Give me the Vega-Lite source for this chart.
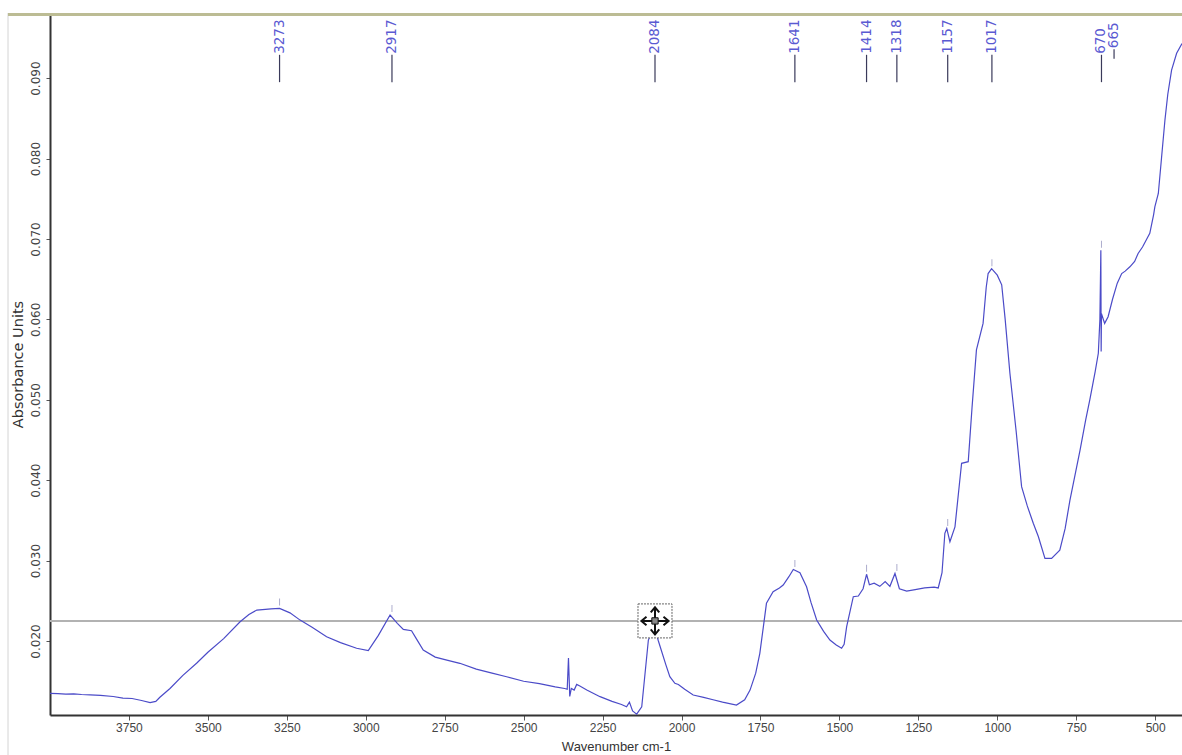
{
  "$schema": "https://vega.github.io/schema/vega-lite/v6.json",
  "width": 1132,
  "height": 702,
  "autosize": "none",
  "padding": {"left": 50, "top": 13, "right": 0, "bottom": 40},
  "background": "white",
  "config": {"view": {"stroke": null}, "font": "Liberation Sans"},
  "datasets": {
    "spectrum": [
      {"wn": 4000, "abs": 0.0135}, {"wn": 3975, "abs": 0.01345}, {"wn": 3950, "abs": 0.0134}, {"wn": 3925, "abs": 0.01342},
      {"wn": 3900, "abs": 0.01335}, {"wn": 3873, "abs": 0.0133}, {"wn": 3840, "abs": 0.01325}, {"wn": 3800, "abs": 0.0131},
      {"wn": 3769, "abs": 0.0129}, {"wn": 3740, "abs": 0.01285}, {"wn": 3710, "abs": 0.0126}, {"wn": 3683, "abs": 0.01235},
      {"wn": 3665, "abs": 0.0125}, {"wn": 3652, "abs": 0.013}, {"wn": 3620, "abs": 0.0141}, {"wn": 3580, "abs": 0.0157},
      {"wn": 3535, "abs": 0.01726}, {"wn": 3500, "abs": 0.0186}, {"wn": 3450, "abs": 0.0203}, {"wn": 3398, "abs": 0.0224},
      {"wn": 3370, "abs": 0.0233}, {"wn": 3345, "abs": 0.02385}, {"wn": 3300, "abs": 0.024}, {"wn": 3273, "abs": 0.02406},
      {"wn": 3240, "abs": 0.0235}, {"wn": 3208, "abs": 0.0226}, {"wn": 3170, "abs": 0.0217}, {"wn": 3124, "abs": 0.02053},
      {"wn": 3080, "abs": 0.0198}, {"wn": 3029, "abs": 0.0191}, {"wn": 2992, "abs": 0.0188}, {"wn": 2960, "abs": 0.0207},
      {"wn": 2923, "abs": 0.02323}, {"wn": 2900, "abs": 0.0222}, {"wn": 2881, "abs": 0.02145}, {"wn": 2855, "abs": 0.02128},
      {"wn": 2840, "abs": 0.0203}, {"wn": 2818, "abs": 0.01888}, {"wn": 2780, "abs": 0.018}, {"wn": 2740, "abs": 0.0176},
      {"wn": 2702, "abs": 0.01723}, {"wn": 2650, "abs": 0.0165}, {"wn": 2600, "abs": 0.016}, {"wn": 2554, "abs": 0.01556},
      {"wn": 2500, "abs": 0.015}, {"wn": 2450, "abs": 0.0147}, {"wn": 2400, "abs": 0.0143}, {"wn": 2370, "abs": 0.0141},
      {"wn": 2362, "abs": 0.014}, {"wn": 2358, "abs": 0.0179}, {"wn": 2354, "abs": 0.0131}, {"wn": 2349, "abs": 0.0141},
      {"wn": 2340, "abs": 0.0139}, {"wn": 2332, "abs": 0.0146}, {"wn": 2322, "abs": 0.0144}, {"wn": 2300, "abs": 0.0139},
      {"wn": 2258, "abs": 0.01308}, {"wn": 2220, "abs": 0.0125}, {"wn": 2190, "abs": 0.0121}, {"wn": 2174, "abs": 0.01183},
      {"wn": 2165, "abs": 0.0124}, {"wn": 2155, "abs": 0.0113}, {"wn": 2142, "abs": 0.0109}, {"wn": 2126, "abs": 0.01183},
      {"wn": 2105, "abs": 0.02012}, {"wn": 2090, "abs": 0.0214}, {"wn": 2084, "abs": 0.0216}, {"wn": 2074, "abs": 0.0201},
      {"wn": 2050, "abs": 0.0171}, {"wn": 2037, "abs": 0.01556}, {"wn": 2021, "abs": 0.01474}, {"wn": 2010, "abs": 0.0146},
      {"wn": 1990, "abs": 0.014}, {"wn": 1963, "abs": 0.01329}, {"wn": 1930, "abs": 0.013}, {"wn": 1900, "abs": 0.0127},
      {"wn": 1870, "abs": 0.0124}, {"wn": 1826, "abs": 0.01204}, {"wn": 1800, "abs": 0.0127}, {"wn": 1783, "abs": 0.0139},
      {"wn": 1765, "abs": 0.016}, {"wn": 1752, "abs": 0.01847}, {"wn": 1740, "abs": 0.022}, {"wn": 1731, "abs": 0.02469},
      {"wn": 1710, "abs": 0.02613}, {"wn": 1690, "abs": 0.0266}, {"wn": 1678, "abs": 0.02696}, {"wn": 1660, "abs": 0.028},
      {"wn": 1646, "abs": 0.0289}, {"wn": 1625, "abs": 0.0285}, {"wn": 1604, "abs": 0.02675}, {"wn": 1590, "abs": 0.0248},
      {"wn": 1572, "abs": 0.02261}, {"wn": 1550, "abs": 0.0212}, {"wn": 1530, "abs": 0.02012}, {"wn": 1510, "abs": 0.0195},
      {"wn": 1493, "abs": 0.0191}, {"wn": 1485, "abs": 0.0196}, {"wn": 1477, "abs": 0.02178}, {"wn": 1456, "abs": 0.02551},
      {"wn": 1440, "abs": 0.0256}, {"wn": 1425, "abs": 0.0265}, {"wn": 1414, "abs": 0.0283}, {"wn": 1405, "abs": 0.027},
      {"wn": 1390, "abs": 0.0272}, {"wn": 1372, "abs": 0.0268}, {"wn": 1355, "abs": 0.0274}, {"wn": 1340, "abs": 0.0268},
      {"wn": 1324, "abs": 0.0284}, {"wn": 1310, "abs": 0.0265}, {"wn": 1287, "abs": 0.0262}, {"wn": 1260, "abs": 0.0264},
      {"wn": 1230, "abs": 0.0266}, {"wn": 1200, "abs": 0.0267}, {"wn": 1187, "abs": 0.0266}, {"wn": 1175, "abs": 0.0285},
      {"wn": 1166, "abs": 0.0334}, {"wn": 1160, "abs": 0.034}, {"wn": 1150, "abs": 0.03235}, {"wn": 1134, "abs": 0.0342},
      {"wn": 1120, "abs": 0.0395}, {"wn": 1113, "abs": 0.0421}, {"wn": 1092, "abs": 0.0423}, {"wn": 1080, "abs": 0.049},
      {"wn": 1066, "abs": 0.0562}, {"wn": 1045, "abs": 0.0595}, {"wn": 1035, "abs": 0.064}, {"wn": 1029, "abs": 0.0657},
      {"wn": 1018, "abs": 0.0663}, {"wn": 1000, "abs": 0.0655}, {"wn": 986, "abs": 0.0643}, {"wn": 975, "abs": 0.06},
      {"wn": 960, "abs": 0.0533}, {"wn": 940, "abs": 0.046}, {"wn": 923, "abs": 0.0392}, {"wn": 905, "abs": 0.0368},
      {"wn": 886, "abs": 0.03464}, {"wn": 870, "abs": 0.033}, {"wn": 849, "abs": 0.03028}, {"wn": 828, "abs": 0.03028},
      {"wn": 802, "abs": 0.03131}, {"wn": 785, "abs": 0.034}, {"wn": 770, "abs": 0.0375}, {"wn": 738, "abs": 0.0437},
      {"wn": 720, "abs": 0.0475}, {"wn": 707, "abs": 0.05}, {"wn": 690, "abs": 0.0535}, {"wn": 680, "abs": 0.05578},
      {"wn": 675, "abs": 0.06}, {"wn": 672, "abs": 0.0686}, {"wn": 671, "abs": 0.056}, {"wn": 670, "abs": 0.0607},
      {"wn": 660, "abs": 0.0595}, {"wn": 649, "abs": 0.06033}, {"wn": 635, "abs": 0.0625}, {"wn": 620, "abs": 0.0645},
      {"wn": 606, "abs": 0.0657}, {"wn": 595, "abs": 0.066}, {"wn": 580, "abs": 0.06654}, {"wn": 565, "abs": 0.0672},
      {"wn": 554, "abs": 0.0682}, {"wn": 540, "abs": 0.069}, {"wn": 517, "abs": 0.0707}, {"wn": 505, "abs": 0.073},
      {"wn": 501, "abs": 0.074}, {"wn": 490, "abs": 0.07566}, {"wn": 480, "abs": 0.08}, {"wn": 469, "abs": 0.0848},
      {"wn": 460, "abs": 0.088}, {"wn": 448, "abs": 0.091}, {"wn": 432, "abs": 0.0931}, {"wn": 415, "abs": 0.0943}
    ],
    "peaks": [
      {"wn": 3273, "label": "3273", "abs": 0.0241},
      {"wn": 2917, "label": "2917", "abs": 0.0233},
      {"wn": 2084, "label": "2084", "abs": 0.0216},
      {"wn": 1641, "label": "1641", "abs": 0.0289},
      {"wn": 1414, "label": "1414", "abs": 0.0283},
      {"wn": 1318, "label": "1318", "abs": 0.0284},
      {"wn": 1157, "label": "1157", "abs": 0.034},
      {"wn": 1017, "label": "1017", "abs": 0.0663},
      {"wn": 670, "label": "670", "abs": 0.0686},
      {"wn": 665, "label": "665", "abs": 0.0686}
    ],
    "cursor": [{"wn": 2084, "abs": 0.0225}]
  },
  "encoding": {
    "x": {
      "field": "wn", "type": "quantitative",
      "scale": {"domain": [415, 4000], "reverse": true, "nice": false, "zero": false},
      "axis": {
        "title": "Wavenumber cm-1",
        "values": [3750, 3500, 3250, 3000, 2750, 2500, 2250, 2000, 1750, 1500, 1250, 1000, 750, 500],
        "format": "d", "grid": false,
        "domainColor": "#333333", "domainWidth": 2,
        "tickColor": "#555555", "tickSize": 5,
        "labelFont": "Liberation Sans", "labelFontSize": 12, "labelColor": "#444444", "labelPadding": 2,
        "titleFont": "Liberation Sans", "titleFontSize": 13, "titleFontWeight": "normal", "titleColor": "#333333", "titlePadding": 7
      }
    },
    "y": {
      "field": "abs", "type": "quantitative",
      "scale": {"domain": [0.0108, 0.0981], "nice": false, "zero": false},
      "axis": {
        "title": "Absorbance Units",
        "values": [0.02, 0.03, 0.04, 0.05, 0.06, 0.07, 0.08, 0.09],
        "format": ".3f", "grid": false,
        "labelAngle": 270, "labelAlign": "center", "labelBaseline": "bottom",
        "domainColor": "#333333", "domainWidth": 2,
        "tickColor": "#555555", "tickSize": 4,
        "labelFont": "DejaVu Sans", "labelFontSize": 12, "labelColor": "#444444", "labelPadding": 4,
        "titleFont": "DejaVu Sans", "titleFontSize": 14.5, "titleFontWeight": "normal", "titleColor": "#333333", "titlePadding": 4
      }
    }
  },
  "layer": [
    {
      "data": {"name": "cursor"},
      "mark": {"type": "rule", "color": "#d4d4d4", "strokeWidth": 1},
      "encoding": {"x": {"datum": 4133}, "y": {"datum": 0.0981}, "y2": {"datum": 0.0058}}
    },
    {
      "data": {"name": "cursor"},
      "mark": {"type": "rule", "color": "#bcbc94", "strokeWidth": 3},
      "encoding": {"x": {"datum": 4133}, "x2": {"datum": 415}, "y": {"datum": 0.0979}}
    },
    {
      "data": {"name": "cursor"},
      "mark": {"type": "rule", "color": "#b2b2b2", "strokeWidth": 2},
      "encoding": {"x": null, "y": {"datum": 0.0225}}
    },
    {
      "data": {"name": "spectrum"},
      "mark": {"type": "line", "color": "#4b4bc8", "strokeWidth": 1.2, "interpolate": "linear"}
    },
    {
      "data": {"name": "peaks"},
      "transform": [{"filter": "datum.wn != 665"}],
      "mark": {"type": "tick", "orient": "vertical", "color": "#8a8ab8", "size": 7, "thickness": 1, "yOffset": -6}
    },
    {
      "data": {"name": "peaks"},
      "transform": [{"filter": "datum.wn != 665"}],
      "mark": {"type": "rule", "color": "#3a3a5a", "strokeWidth": 1.2},
      "encoding": {"y": {"datum": 0.0895}, "y2": {"datum": 0.0929}}
    },
    {
      "data": {"name": "peaks"},
      "transform": [{"filter": "datum.wn != 665"}],
      "mark": {"type": "text", "angle": 270, "align": "left", "baseline": "middle", "font": "DejaVu Sans", "fontSize": 13.5, "color": "#5a5ad2", "dx": 1},
      "encoding": {"y": {"datum": 0.0929}, "text": {"field": "label"}}
    },
    {
      "data": {"name": "peaks"},
      "transform": [{"filter": "datum.wn == 665"}],
      "mark": {"type": "rule", "color": "#3a3a5a", "strokeWidth": 1.2, "xOffset": 11},
      "encoding": {"y": {"datum": 0.0924}, "y2": {"datum": 0.0936}}
    },
    {
      "data": {"name": "peaks"},
      "transform": [{"filter": "datum.wn == 665"}],
      "mark": {"type": "text", "angle": 270, "align": "left", "baseline": "middle", "font": "DejaVu Sans", "fontSize": 13.5, "color": "#5a5ad2", "dx": 1, "dy": 11},
      "encoding": {"y": {"datum": 0.0936}, "text": {"field": "label"}}
    },
    {
      "data": {"name": "cursor"},
      "mark": {"type": "point", "shape": "square", "size": 1156, "filled": false, "fill": "white", "fillOpacity": 1, "stroke": "#666666", "strokeWidth": 1, "strokeDash": [2, 1], "opacity": 1}
    },
    {
      "data": {"name": "cursor"},
      "mark": {"type": "point", "shape": "M0,-0.8V0.8M-0.8,0H0.8M-0.25,-0.5L0,-0.8L0.25,-0.5M-0.25,0.5L0,0.8L0.25,0.5M-0.5,-0.25L-0.8,0L-0.5,0.25M0.5,-0.25L0.8,0L0.5,0.25", "size": 1156, "filled": false, "stroke": "#111111", "strokeWidth": 2, "opacity": 1}
    },
    {
      "data": {"name": "cursor"},
      "mark": {"type": "point", "shape": "square", "size": 40, "filled": true, "fill": "#888888", "stroke": "#111111", "strokeWidth": 1, "opacity": 1}
    }
  ]
}
